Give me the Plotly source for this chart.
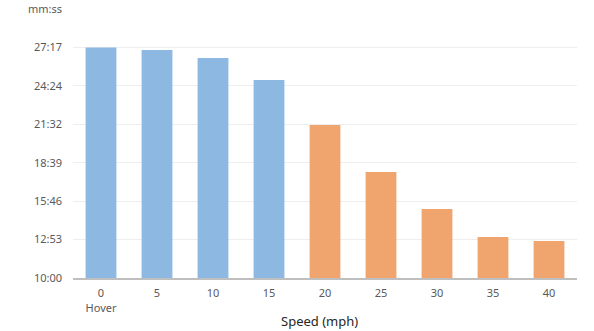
import plotly.graph_objects as go

# Hover / flight time by airspeed, in seconds
speeds = ["0<br>Hover", "5", "10", "15", "20", "25", "30", "35", "40"]
flight_time_s = [1638, 1626, 1590, 1491, 1289, 1077, 911, 785, 767]
bar_colors = ["#8DB8E2"] * 4 + ["#F0A56E"] * 5

# y ticks every 173 s from 10:00
tick_vals = [600, 773, 946, 1119, 1292, 1465, 1638, 1811]
tick_text = ["10:00", "12:53", "15:46", "18:39", "21:32", "24:24", "27:17", "mm:ss"]

fig = go.Figure(
    go.Bar(
        x=speeds,
        y=flight_time_s,
        marker=dict(color=bar_colors, line=dict(width=0)),
        hoverinfo="skip",
    )
)

fig.update_layout(
    width=594,
    height=331,
    margin=dict(l=73, r=17, t=9, b=53),
    paper_bgcolor="white",
    plot_bgcolor="white",
    bargap=0.45,
    showlegend=False,
    font=dict(family="Noto Sans", size=11, color="#595959"),
    xaxis=dict(
        type="category",
        automargin=False,
        showline=True,
        linecolor="#BFBFBF",
        linewidth=2,
        ticks="",
        ticklabelstandoff=4,
        showgrid=False,
        tickfont=dict(size=11, color="#595959"),
    ),
    yaxis=dict(
        automargin=False,
        range=[600, 1811],
        tickvals=tick_vals,
        ticktext=tick_text,
        showgrid=True,
        gridcolor="#EEEEEE",
        gridwidth=1,
        zeroline=False,
        ticks="",
        ticklabelstandoff=10,
        tickfont=dict(size=11, color="#595959"),
    ),
    annotations=[
        dict(
            text="Speed (mph)",
            xref="paper", yref="paper",
            x=0.49, y=0,
            xanchor="center", yanchor="middle",
            yshift=-43,
            showarrow=False,
            font=dict(size=13, color="#262626"),
        )
    ],
)

fig.write_html("out.html")
